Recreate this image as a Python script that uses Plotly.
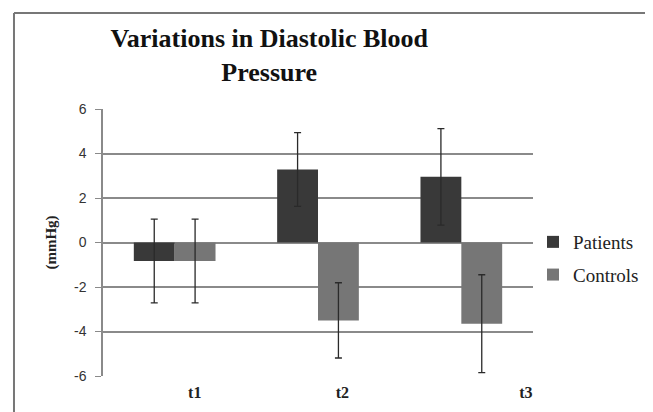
import plotly.graph_objects as go

categories = ['t1', 't2', 't3']
cat_pos = [0, 1, 2]
label_pos = [0.14, 1.17, 2.45]
patients = [-0.83, 3.28, 2.95]
patients_err = [1.88, 1.66, 2.17]
controls = [-0.83, -3.5, -3.65]
controls_err = [1.88, 1.69, 2.2]
y_ticks = [-6, -4, -2, 0, 2, 4, 6]
y_labels = ['-6', '-4', '-2', '0', '2', '4', '6']

fig = go.Figure()
fig.add_trace(go.Bar(x=cat_pos, y=patients, name='Patients', legendgroup='p',
                     marker=dict(color='#393939', line=dict(width=0)),
                     error_y=dict(type='data', array=patients_err, color='#2a2a2a',
                                  thickness=1.3, width=3.5)))
fig.add_trace(go.Bar(x=cat_pos, y=controls, name='Controls', legendgroup='c',
                     marker=dict(color='#767676', line=dict(width=0)),
                     error_y=dict(type='data', array=controls_err, color='#2a2a2a',
                                  thickness=1.3, width=3.5)))

fig.update_layout(
    width=653, height=412,
    margin=dict(l=95, r=128, t=101, b=44),
    paper_bgcolor='white', plot_bgcolor='white',
    barmode='group', bargap=0.43, bargroupgap=0,
    title=dict(text='<b>Variations in Diastolic Blood<br>Pressure</b>',
               x=0.4, xanchor='center', y=0.905, yanchor='top',
               font=dict(family='Liberation Serif', size=26, color='#111')),
    legend=dict(x=1.0, y=0.44, xanchor='left', yanchor='middle',
                font=dict(family='Liberation Serif', size=19, color='#222'),
                itemwidth=30, traceorder='grouped', tracegroupgap=5),
    showlegend=True,
)
fig.update_xaxes(
    range=[-0.5, 2.5], tickmode='array', tickvals=label_pos,
    ticktext=['<b>%s</b>' % c for c in categories],
    tickfont=dict(family='Liberation Serif', size=16, color='#222'),
    showgrid=False, zeroline=False, showline=False, ticks='',
    ticklabelstandoff=5,
)
fig.update_yaxes(
    range=[-6, 6], tickmode='array', tickvals=y_ticks, ticktext=y_labels,
    tickfont=dict(family='Liberation Sans', size=14, color='#333'),
    showgrid=True, gridcolor='#8a8a8a', gridwidth=1.5,
    zeroline=False, showline=True, linecolor='#8a8a8a', linewidth=1.5,
    ticks='outside', ticklen=6, tickcolor='#8a8a8a',
    ticklabelstandoff=6,
    title=dict(text='<b>(mmHg)</b>', standoff=14,
               font=dict(family='Liberation Serif', size=15, color='#222')),
)
# outer frame (left + top edges visible in the crop)
fig.add_shape(type='line', xref='paper', yref='paper', x0=-0.207, x1=-0.207,
              y0=-0.3, y1=1.36, line=dict(color='#777', width=2))
fig.add_shape(type='line', xref='paper', yref='paper', x0=-0.207, x1=1.4,
              y0=1.36, y1=1.36, line=dict(color='#777', width=2))

fig.write_html('out.html')
